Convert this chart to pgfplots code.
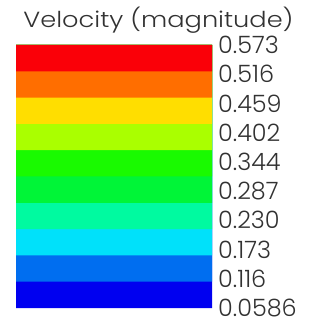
\documentclass[border=0pt]{standalone}
\usepackage{fontspec}
\setmainfont{Poppins}[UprightFont=* Light]
\usepackage{pgfplots}
\pgfplotsset{compat=1.18}
\definecolor{txt}{RGB}{50,50,50}
\definecolor{c1}{RGB}{0,0,240}
\definecolor{c2}{RGB}{0,110,240}
\definecolor{c3}{RGB}{0,225,250}
\definecolor{c4}{RGB}{0,250,160}
\definecolor{c5}{RGB}{0,245,55}
\definecolor{c6}{RGB}{25,250,0}
\definecolor{c7}{RGB}{170,255,0}
\definecolor{c8}{RGB}{255,222,0}
\definecolor{c9}{RGB}{255,110,0}
\definecolor{c10}{RGB}{250,0,8}
\begin{document}
\begin{tikzpicture}
\path[use as bounding box] (0,0) rectangle (320bp,328bp);
\begin{axis}[
  at={(16bp,283bp)}, anchor=north west,
  scale only axis, width=196bp, height=263bp,
  xmin=0, xmax=1, ymin=0.0586, ymax=0.573,
  axis line style={draw=none},
  xtick=\empty,
  major tick length=0pt,
  ytick={0.0586,0.11576,0.17292,0.23008,0.28724,0.3444,0.40156,0.45872,0.51588,0.573},
  yticklabels={0.0586,0.116,0.173,0.230,0.287,0.344,0.402,0.459,0.516,0.573},
  yticklabel pos=right,
  yticklabel style={anchor=west, inner sep=0pt, xshift=6bp, text=txt, font=\fontsize{24}{24}\selectfont},
  /pgf/number format/assume math mode=true,
]
\addplot[fill=c1, draw=none] coordinates {(0,0.0586) (1,0.0586) (1,0.573) (0,0.573) (0,0.0586)};
\addplot[fill=c2, draw=none] coordinates {(0,0.11004) (1,0.11004) (1,0.573) (0,0.573) (0,0.11004)};
\addplot[fill=c3, draw=none] coordinates {(0,0.16148) (1,0.16148) (1,0.573) (0,0.573) (0,0.16148)};
\addplot[fill=c4, draw=none] coordinates {(0,0.21292) (1,0.21292) (1,0.573) (0,0.573) (0,0.21292)};
\addplot[fill=c5, draw=none] coordinates {(0,0.26436) (1,0.26436) (1,0.573) (0,0.573) (0,0.26436)};
\addplot[fill=c6, draw=none] coordinates {(0,0.3158) (1,0.3158) (1,0.573) (0,0.573) (0,0.3158)};
\addplot[fill=c7, draw=none] coordinates {(0,0.36724) (1,0.36724) (1,0.573) (0,0.573) (0,0.36724)};
\addplot[fill=c8, draw=none] coordinates {(0,0.41868) (1,0.41868) (1,0.573) (0,0.573) (0,0.41868)};
\addplot[fill=c9, draw=none] coordinates {(0,0.47012) (1,0.47012) (1,0.573) (0,0.573) (0,0.47012)};
\addplot[fill=c10, draw=none] coordinates {(0,0.52156) (1,0.52156) (1,0.573) (0,0.573) (0,0.52156)};
\end{axis}
\node[anchor=base, inner sep=0pt, text=txt, xscale=1.17, font=\fontsize{22}{22}\selectfont] at (158.5bp,300bp) {Velocity (magnitude)};
\end{tikzpicture}
\end{document}
